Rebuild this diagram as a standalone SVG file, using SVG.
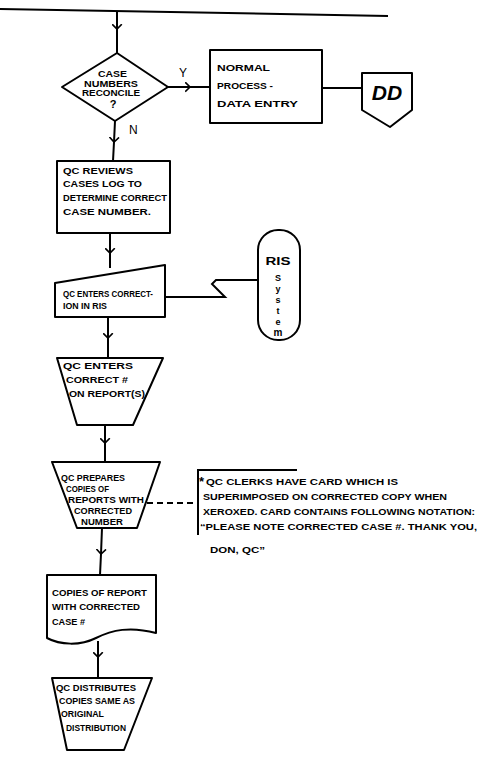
<svg xmlns="http://www.w3.org/2000/svg" width="502" height="765" viewBox="0 0 502 765">
  <style>
    .shape { fill: #fff; stroke: #000; stroke-width: 2; stroke-linejoin: round; }
    .line { fill: none; stroke: #000; stroke-width: 2; }
    .dash { fill: none; stroke: #000; stroke-width: 2; stroke-dasharray: 6 4; }
    text { font-family: "Liberation Sans", Arial, sans-serif; font-weight: bold; fill: #000; }
    .t { font-size: 8.5px; }
    .note { font-size: 8.5px; }
    .lbl { font-size: 12px; font-weight: normal; }
  </style>
  <defs>
    <marker id="chev" viewBox="0 0 10 12" refX="6" refY="6" markerWidth="8" markerHeight="11" markerUnits="userSpaceOnUse" orient="auto">
      <path d="M0,0 L6,6 L0,12" fill="none" stroke="#000" stroke-width="2"/>
    </marker>
  </defs>
  <rect width="502" height="765" fill="#fff"/>

  <!-- connectors -->
  <g id="connectors">
    <path class="line" d="M0,9 L388,16"/>
    <path class="line" d="M117,12 L117,29 L117,53" marker-mid="url(#chev)"/>
    <path class="line" d="M168,87 L190,87 L210,87" marker-mid="url(#chev)"/>
    <path class="line" d="M322,88 L362,88"/>
    <path class="line" d="M115,121 L114,142 L113,161" marker-mid="url(#chev)"/>
    <path class="line" d="M110,233 L110,253 L110,268" marker-mid="url(#chev)"/>
    <path class="line" d="M165,297 L225,297 L212,284 L216,280 L258,280"/>
    <path class="line" d="M108,317 L108,338 L108,358" marker-mid="url(#chev)"/>
    <path class="line" d="M105,425 L105,443 L105,462" marker-mid="url(#chev)"/>
    <path class="dash" d="M147,503 L197,503"/>
    <path class="line" d="M297,470 L198,470 L198,535"/>
    <path class="line" d="M102,528 L101,554 L100,575" marker-mid="url(#chev)"/>
    <path class="line" d="M98,641 L98,657 L98,678" marker-mid="url(#chev)"/>
  </g>

  <g id="decision">
    <polygon class="shape" points="117,53 168,87 115,121 62,87"/>
    <text class="t" x="98" y="77" textLength="29" lengthAdjust="spacingAndGlyphs">CASE</text>
    <text class="t" x="84" y="87" textLength="54" lengthAdjust="spacingAndGlyphs">NUMBERS</text>
    <text class="t" x="82" y="96" textLength="58" lengthAdjust="spacingAndGlyphs">RECONCILE</text>
    <text x="113" y="108" text-anchor="middle" font-size="11">?</text>
  </g>
  <g id="label-y"><text class="lbl" x="179" y="77">Y</text></g>
  <g id="label-n"><text class="lbl" x="129" y="134">N</text></g>

  <g id="normal-process">
    <rect class="shape" x="210" y="50" width="112" height="73"/>
    <text class="t" x="217" y="71" textLength="53" lengthAdjust="spacingAndGlyphs">NORMAL</text>
    <text class="t" x="217" y="89" textLength="56" lengthAdjust="spacingAndGlyphs">PROCESS -</text>
    <text class="t" x="217" y="107" textLength="81" lengthAdjust="spacingAndGlyphs">DATA ENTRY</text>
  </g>

  <g id="offpage-dd">
    <polygon class="shape" points="362,73 412,73 412,110 390,127 362,110"/>
    <text x="387" y="100" text-anchor="middle" font-size="21" font-weight="normal" font-style="italic">DD</text>
  </g>

  <g id="qc-reviews">
    <rect class="shape" x="57" y="161" width="113" height="72"/>
    <text class="t" x="63" y="174" textLength="70" lengthAdjust="spacingAndGlyphs">QC REVIEWS</text>
    <text class="t" x="63" y="187" textLength="79" lengthAdjust="spacingAndGlyphs">CASES LOG TO</text>
    <text class="t" x="63" y="201" textLength="104" lengthAdjust="spacingAndGlyphs">DETERMINE CORRECT</text>
    <text class="t" x="63" y="215" textLength="88" lengthAdjust="spacingAndGlyphs">CASE NUMBER.</text>
  </g>

  <g id="qc-enters-correction">
    <polygon class="shape" points="55,283 165,265 165,317 55,317"/>
    <text class="t" x="63" y="297" textLength="90" lengthAdjust="spacingAndGlyphs">QC ENTERS CORRECT-</text>
    <text class="t" x="63" y="309" textLength="44" lengthAdjust="spacingAndGlyphs">ION IN RIS</text>
  </g>

  <g id="ris-system">
    <rect class="shape" x="258" y="230" width="42" height="110" rx="20" ry="20"/>
    <text x="278" y="265" text-anchor="middle" font-size="10" textLength="25" lengthAdjust="spacingAndGlyphs">RIS</text>
    <text x="278" y="281" text-anchor="middle" font-size="9">S</text>
    <text x="278" y="292" text-anchor="middle" font-size="9">y</text>
    <text x="278" y="303" text-anchor="middle" font-size="9">s</text>
    <text x="278" y="314" text-anchor="middle" font-size="9">t</text>
    <text x="278" y="325" text-anchor="middle" font-size="9">e</text>
    <text x="278" y="336" text-anchor="middle" font-size="10">m</text>
  </g>

  <g id="qc-enters-number">
    <polygon class="shape" points="57,358 163,358 133,425 77,425"/>
    <text class="t" x="63" y="369" textLength="70" lengthAdjust="spacingAndGlyphs">QC ENTERS</text>
    <text class="t" x="66" y="383" textLength="62" lengthAdjust="spacingAndGlyphs">CORRECT #</text>
    <text class="t" x="69" y="397" textLength="76" lengthAdjust="spacingAndGlyphs">ON REPORT(S)</text>
  </g>

  <g id="qc-prepares">
    <polygon class="shape" points="52,462 160,462 137,528 77,528"/>
    <text class="t" x="61" y="481" textLength="64" lengthAdjust="spacingAndGlyphs">QC PREPARES</text>
    <text class="t" x="66" y="492" textLength="43" lengthAdjust="spacingAndGlyphs">COPIES OF</text>
    <text class="t" x="68" y="503" textLength="76" lengthAdjust="spacingAndGlyphs">REPORTS WITH</text>
    <text class="t" x="74" y="514" textLength="58" lengthAdjust="spacingAndGlyphs">CORRECTED</text>
    <text class="t" x="81" y="525" textLength="42" lengthAdjust="spacingAndGlyphs">NUMBER</text>
  </g>

  <g id="note">
    <text x="199" y="486" font-size="13">*</text>
    <text class="note" x="206" y="485" textLength="192" lengthAdjust="spacingAndGlyphs">QC CLERKS HAVE CARD WHICH IS</text>
    <text class="note" x="203" y="500" textLength="244" lengthAdjust="spacingAndGlyphs">SUPERIMPOSED ON CORRECTED COPY WHEN</text>
    <text class="note" x="203" y="515" textLength="272" lengthAdjust="spacingAndGlyphs">XEROXED. CARD CONTAINS FOLLOWING NOTATION:</text>
    <text class="note" x="200" y="530" textLength="277" lengthAdjust="spacingAndGlyphs">“PLEASE NOTE CORRECTED CASE #. THANK YOU,</text>
    <text class="note" x="210" y="553" font-size="9.5" textLength="55" lengthAdjust="spacingAndGlyphs">DON, QC”</text>
  </g>

  <g id="copies-document">
    <path class="shape" d="M47,575 L156,575 L156,633 C130,626 112,630 96,638 C80,646 60,645 47,638 Z"/>
    <text class="t" x="52" y="596" textLength="95" lengthAdjust="spacingAndGlyphs">COPIES OF REPORT</text>
    <text class="t" x="52" y="610" textLength="88" lengthAdjust="spacingAndGlyphs">WITH CORRECTED</text>
    <text class="t" x="52" y="625" textLength="33" lengthAdjust="spacingAndGlyphs">CASE #</text>
  </g>

  <g id="qc-distributes">
    <polygon class="shape" points="52,678 152,678 124,750 67,750"/>
    <text class="t" x="56" y="691" textLength="80" lengthAdjust="spacingAndGlyphs">QC DISTRIBUTES</text>
    <text class="t" x="59" y="704" textLength="76" lengthAdjust="spacingAndGlyphs">COPIES SAME AS</text>
    <text class="t" x="61" y="717" textLength="43" lengthAdjust="spacingAndGlyphs">ORIGINAL</text>
    <text class="t" x="66" y="731" textLength="60" lengthAdjust="spacingAndGlyphs">DISTRIBUTION</text>
  </g>
</svg>
